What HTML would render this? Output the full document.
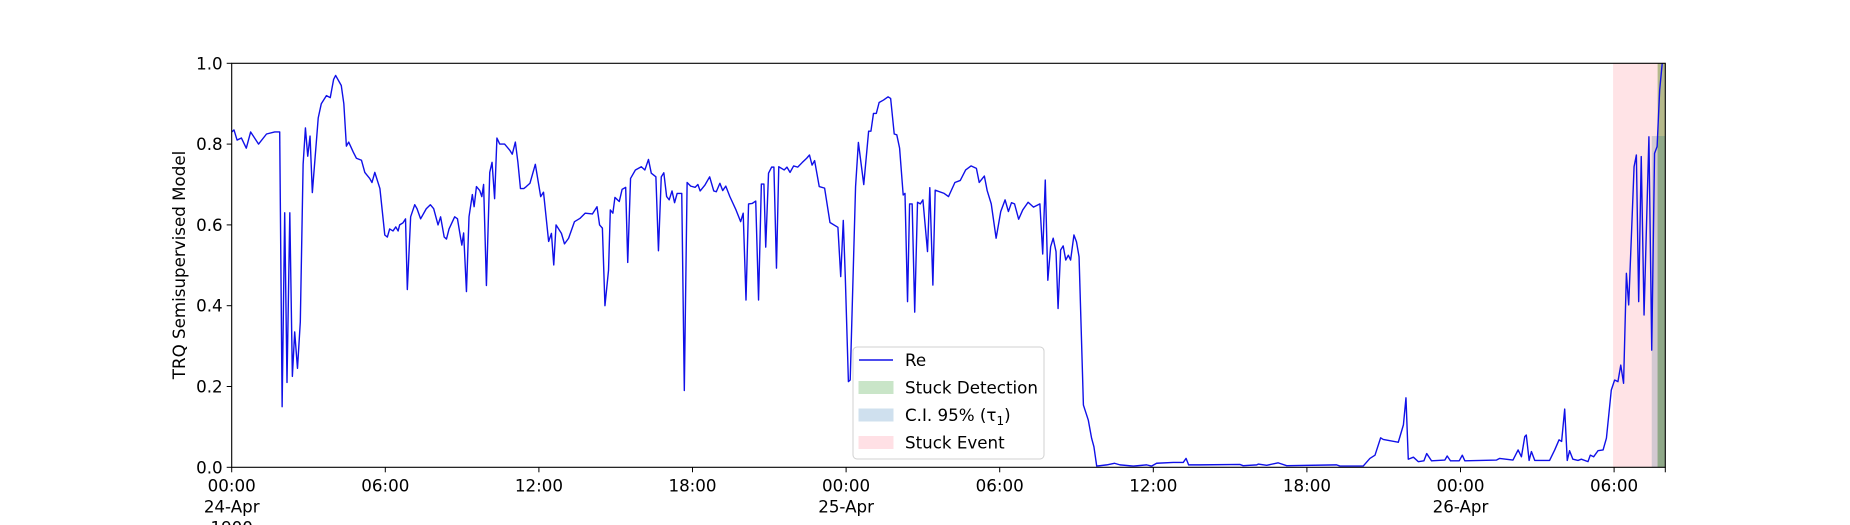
<!DOCTYPE html>
<html><head><meta charset="utf-8">
<style>
html,body{margin:0;padding:0;background:#fff;}
svg{display:block;font-family:"DejaVu Sans","Liberation Sans",sans-serif;}
</style></head>
<body>
<svg id="chart" width="1850" height="525" viewBox="0 0 1850 525" xmlns="http://www.w3.org/2000/svg">
<defs><clipPath id="pc"><rect x="231.7" y="63.3" width="1433.6" height="404"/></clipPath></defs>
<g id="spans" clip-path="url(#pc)"></g>
<g id="series" clip-path="url(#pc)"></g>
<g id="axes"></g>
<g id="legend"></g>
</svg>
<script>
// ---- data (hours since 24-Apr 00:00, model score) ----
const hours = [0,0.09,0.21,0.38,0.57,0.74,1.05,1.36,1.68,1.875,1.97,2.07,2.16,2.27,2.37,2.46,2.57,2.68,2.79,2.88,2.97,3.06,3.15,3.38,3.5,3.7,3.85,3.98,4.06,4.28,4.38,4.48,4.57,4.75,4.87,5.07,5.2,5.39,5.48,5.59,5.79,5.98,6.08,6.17,6.3,6.41,6.5,6.56,6.69,6.79,6.86,6.99,7.15,7.24,7.38,7.6,7.76,7.89,8.06,8.16,8.3,8.39,8.49,8.71,8.82,8.91,8.99,9.06,9.17,9.27,9.4,9.47,9.56,9.69,9.77,9.84,9.95,10.08,10.17,10.27,10.36,10.47,10.66,10.86,10.96,11.08,11.18,11.28,11.41,11.51,
11.65,11.86,12.07,12.18,12.38,12.49,12.58,12.67,12.88,13.0,13.16,13.39,13.6,13.81,14.09,14.27,14.37,14.48,14.58,14.72,14.79,14.89,14.97,15.14,15.25,15.39,15.47,15.58,15.77,16.0,16.14,16.28,16.39,16.57,16.67,16.78,16.88,16.99,17.09,17.2,17.3,17.4,17.58,17.68,17.79,17.93,18.1,18.21,18.3,18.49,18.67,18.83,18.93,19.07,19.18,19.3,19.46,19.7,19.88,19.98,20.09,20.19,20.33,20.47,20.58,20.69,20.79,20.86,20.97,21.09,21.18,21.28,21.37,21.58,21.69,21.81,21.95,22.11,22.28,22.46,22.57,22.67,22.77,22.95,23.16,23.37,23.68,23.79,23.89,23.97,24.09,24.16,24.37,24.48,24.69,24.88,24.97,25.07,25.18,25.29,25.46,25.64,25.74,25.88,25.98,26.09,26.23,26.3,26.4,26.48,26.58,26.68,26.79,26.9,27.0,27.18,27.27,27.39,27.48,27.83,28.0,28.25,28.46,28.67,28.88,29.09,29.2,29.4,29.51,29.67,29.86,30.04,30.21,30.34,30.46,30.58,30.74,30.9,31.11,31.32,31.57,
31.68,31.78,31.88,31.99,32.09,32.2,32.28,32.38,32.48,32.58,32.68,32.77,32.9,33.0,33.1,33.27,33.46,33.59,33.68,33.79,34.18,34.48,34.7,35.22,35.74,35.93,36.13,36.78,37.17,37.28,37.38,37.82,39.38,39.51,40.04,40.1,40.43,40.88,41.21,43.16,43.29,44.2,44.46,44.66,44.88,44.98,45.57,45.77,45.87,45.96,46.16,46.35,46.57,46.68,46.87,47.39,47.48,47.61,47.95,48.07,48.17,49.41,
49.53,50.05,50.25,50.38,50.51,50.57,50.68,50.77,50.9,51.48,51.68,51.85,51.95,52.07,52.17,52.26,52.39,52.59,52.72,52.98,53.07,53.2,53.37,53.57,53.7,53.89,54.02,54.15,54.26,54.37,54.48,54.57,54.67,54.78,54.87,54.96,55.06,55.17,55.36,55.47,55.58,55.68,55.78,55.88];
const scores = [0.83,0.835,0.81,0.815,0.79,0.83,0.80,0.825,0.83,0.83,0.15,0.63,0.21,0.63,0.225,0.335,0.245,0.36,0.75,0.84,0.77,0.82,0.68,0.865,0.9,0.92,0.915,0.96,0.97,0.945,0.9,0.795,0.805,0.78,0.765,0.76,0.73,0.715,0.705,0.73,0.69,0.575,0.57,0.59,0.585,0.595,0.585,0.6,0.605,0.615,0.44,0.62,0.65,0.64,0.615,0.64,0.65,0.64,0.6,0.62,0.57,0.565,0.59,0.62,0.615,0.58,0.55,0.58,0.435,0.62,0.675,0.645,0.695,0.685,0.67,0.70,0.45,0.73,0.755,0.665,0.815,0.80,0.80,0.785,0.775,0.805,0.755,0.69,0.69,0.695,
0.703,0.750,0.670,0.681,0.559,0.579,0.501,0.600,0.579,0.553,0.567,0.608,0.616,0.629,0.627,0.645,0.600,0.592,0.400,0.488,0.637,0.629,0.668,0.658,0.688,0.693,0.507,0.715,0.736,0.744,0.736,0.762,0.728,0.719,0.536,0.719,0.729,0.670,0.662,0.684,0.655,0.678,0.678,0.190,0.705,0.696,0.693,0.700,0.684,0.699,0.719,0.684,0.682,0.703,0.685,0.696,0.670,0.637,0.608,0.629,0.414,0.652,0.653,0.659,0.414,0.701,0.701,0.545,0.728,0.743,0.743,0.493,0.744,0.736,0.743,0.730,0.746,0.743,0.754,0.765,0.773,0.748,0.759,0.695,0.691,0.606,0.594,0.472,0.611,0.468,0.212,0.216,0.695,0.804,0.700,0.832,0.832,0.876,0.876,0.903,0.909,0.917,0.913,0.825,0.823,0.790,0.674,0.678,0.410,0.652,0.652,0.384,0.656,0.652,0.662,0.534,0.692,0.451,0.686,0.678,0.670,0.705,0.710,0.736,0.746,0.740,0.705,0.721,0.685,0.652,0.567,0.633,0.662,0.633,0.655,0.652,0.614,0.637,0.656,0.644,0.652,
0.528,0.711,0.463,0.546,0.567,0.534,0.393,0.538,0.548,0.513,0.525,0.513,0.575,0.558,0.521,0.154,0.117,0.072,0.051,0.003,0.006,0.010,0.006,0.003,0.006,0.003,0.010,0.012,0.012,0.022,0.006,0.006,0.007,0.004,0.006,0.008,0.005,0.011,0.004,0.006,0.003,0.003,0.022,0.030,0.073,0.069,0.062,0.105,0.172,0.020,0.025,0.014,0.016,0.034,0.016,0.018,0.028,0.016,0.016,0.030,0.016,0.018,
0.022,0.018,0.043,0.026,0.076,0.080,0.017,0.039,0.017,0.017,0.043,0.068,0.064,0.144,0.017,0.041,0.020,0.017,0.020,0.014,0.030,0.026,0.041,0.043,0.072,0.191,0.216,0.212,0.253,0.208,0.480,0.402,0.563,0.744,0.773,0.410,0.769,0.377,0.818,0.290,0.777,0.794,0.934,1.0];
const xTickHours = [0,6,12,18,24,30,36,42,48,54];
const xTickLabels = [["00:00","24-Apr","1900"],["06:00"],["12:00"],["18:00"],["00:00","25-Apr"],["06:00"],["12:00"],["18:00"],["00:00","26-Apr"],["06:00"]];
const yTicks = [0,0.2,0.4,0.6,0.8,1.0];
const yTickLabels = ["0.0","0.2","0.4","0.6","0.8","1.0"];
const stuckEvent = [53.96,56];
const ciSpan = [55.47,56,0.82];
const stuckDetection = [55.7,56];
const xMax = 56;

// ---- scales ----
const X0=231.7, X1=1665.3, YT=63.3, YB=467.3;
const sx = h => X0 + (h/xMax)*(X1-X0);
const sy = v => YB - v*(YB-YT);
const NS="http://www.w3.org/2000/svg";
function mk(tag, attrs, parent){const e=document.createElementNS(NS,tag);for(const k in attrs)e.setAttribute(k,attrs[k]);parent.appendChild(e);return e;}

const spans=document.getElementById('spans');
let r=mk('rect',{x:sx(stuckEvent[0]),y:YT,width:sx(stuckEvent[1])-sx(stuckEvent[0]),height:YB-YT,fill:'#ffe3e6'},spans);


r=mk('rect',{x:sx(ciSpan[0]),y:sy(ciSpan[2]),width:sx(ciSpan[1])-sx(ciSpan[0]),height:sy(0)-sy(ciSpan[2]),fill:'#d3c9d2'},spans);


r=mk('rect',{x:sx(stuckDetection[0]),y:YT,width:sx(stuckDetection[1])-sx(stuckDetection[0]),height:YB-YT,fill:'#b5b98a'},spans);


r=mk('rect',{x:sx(stuckDetection[0]),y:sy(ciSpan[2]),width:sx(stuckDetection[1])-sx(stuckDetection[0]),height:sy(0)-sy(ciSpan[2]),fill:'#8fa888'},spans);



const series=document.getElementById('series');
let d='';
for(let i=0;i<hours.length;i++){d+=(i?'L':'M')+sx(hours[i]).toFixed(2)+' '+sy(scores[i]).toFixed(2);}
const ln=mk('path',{d:d,fill:'none',stroke:'#1010e8','stroke-width':1.4,'stroke-linejoin':'round'},series);



const axes=document.getElementById('axes');
const frame=mk('rect',{x:X0,y:YT,width:X1-X0,height:YB-YT,fill:'none',stroke:'#000','stroke-width':1.1},axes);


xTickHours.forEach((h,i)=>{
  const x=sx(h);
  const t=mk('line',{x1:x,x2:x,y1:YB,y2:YB+5,stroke:'#000','stroke-width':1},axes);
  
  
  xTickLabels[i].forEach((s,j)=>{
    const tx=mk('text',{x:x,y:YB+24+j*21,'text-anchor':'middle','font-size':'16.7px',fill:'#000'},axes);
    tx.textContent=s;
    
    
  });
});
const endTick=mk('line',{x1:X1,x2:X1,y1:YB,y2:YB+5,stroke:'#000','stroke-width':1},axes);


yTicks.forEach((v,i)=>{
  const y=sy(v);
  const t=mk('line',{x1:X0-5,x2:X0,y1:y,y2:y,stroke:'#000','stroke-width':1},axes);
  
  
  const tx=mk('text',{x:X0-9,y:y+6,'text-anchor':'end','font-size':'16.7px',fill:'#000'},axes);
  tx.textContent=yTickLabels[i];
  
  
});
const yl=mk('text',{x:0,y:0,transform:'translate(185,265) rotate(-90)','text-anchor':'middle','font-size':'16.7px',fill:'#000'},axes);
yl.textContent='TRQ Semisupervised Model';



// legend
const lg=document.getElementById('legend');
const box=mk('rect',{x:853,y:347,width:191,height:112,rx:4,fill:'#fff','fill-opacity':0.85,stroke:'#d0d0d0','stroke-width':1},lg);


const entries=[['Re','line','#1010e8'],['Stuck Detection','patch','#c9e5c8'],['C.I. 95% (τ1)','patch','#cfe0ee'],['Stuck Event','patch','#ffe0e5']];
entries.forEach((e,i)=>{
  const cy=360+i*27.5;
  const g=mk('g',{},lg);
  
  
  if(e[1]==='line'){mk('line',{x1:859,x2:893,y1:cy,y2:cy,stroke:e[2],'stroke-width':1.4},g);}
  else{mk('rect',{x:859,y:cy-6,width:34,height:12,fill:e[2],stroke:e[2]},g);}
  const tx=mk('text',{x:905,y:cy+6,'font-size':'16.7px',fill:'#000'},g);
  if(i===2){tx.textContent='C.I. 95% (τ';const s=mk('tspan',{'font-size':'12px',dy:4},tx);s.textContent='1';const s2=mk('tspan',{dy:-4},tx);s2.textContent=')';}
  else tx.textContent=e[0];
});
</script>
</body></html>
